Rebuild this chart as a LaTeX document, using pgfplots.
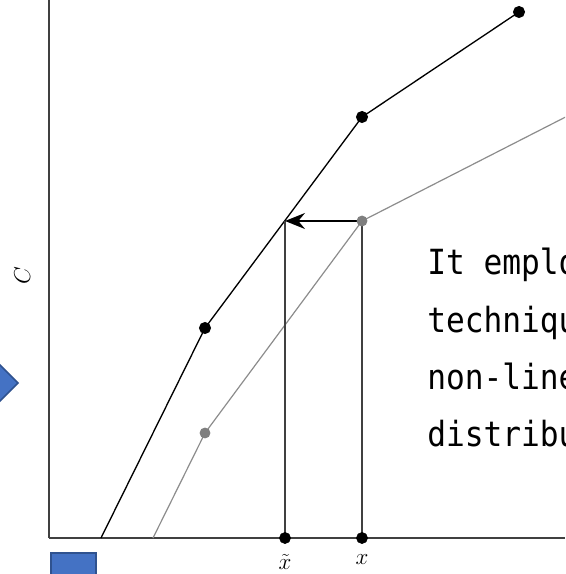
\documentclass[border=0pt]{standalone}
\usepackage{pgfplots}
\pgfplotsset{compat=1.18}
\usetikzlibrary{arrows.meta}
\usepackage{fontspec}
\newfontfamily\techfont[FakeStretch=0.9]{DejaVu Sans Mono}
\definecolor{axgray}{HTML}{404040}
\definecolor{lgray}{HTML}{8C8C8C}
\definecolor{dgray}{HTML}{7F7F7F}
\definecolor{boxblue}{HTML}{4472C4}
\definecolor{boxedge}{HTML}{2F528F}

\begin{document}
\begin{tikzpicture}
% picture frame: 565 x 574 px at 0.75pt per px
\useasboundingbox (-36.75pt,-27pt) rectangle (387pt,403.5pt);
\clip (-36.75pt,-27pt) rectangle (387pt,403.5pt);
\begin{axis}[
  at={(0,0)},anchor=south west,
  scale only axis,width=387pt,height=403.5pt,
  xmin=49,xmax=565,ymin=0,ymax=538,
  clip=false,
  axis x line*=bottom,axis y line*=left,
  axis line style={-,draw=axgray,line width=1.1pt},
  major tick length=0pt,
  xtick={285,362},xticklabels={$\tilde{x}$,$x$},
  ytick=\empty,
  xticklabel style={font=\LARGE,yshift=-9pt},
  ylabel={$C$},
  ylabel style={at={(axis description cs:-0.052,0.487)},anchor=center,
                font=\LARGE},
]
% shifted cost curve (gray)
\addplot[lgray,line width=0.9pt,mark=*,mark size=3.6pt,
  mark options={draw=dgray,fill=dgray},mark indices={2,3}]
  coordinates {(153,0)(205,105)(362,317)(640,459)};
% original cost curve (black)
\addplot[black,line width=1pt,mark=*,mark size=4pt,mark indices={2,3,4}]
  coordinates {(101,0)(205,210)(362,421)(519,526)};
% guides from x and x-tilde
\addplot[axgray,line width=1.1pt] coordinates {(285,0)(285,317)};
\addplot[axgray,line width=1.1pt] coordinates {(362,0)(362,317)};
\addplot[only marks,black,mark=*,mark size=4.2pt] coordinates {(285,0)(362,0)};
\draw[black,line width=1.1pt,-{Stealth[length=15pt,width=12pt,inset=5pt]}]
  (axis cs:362,317) -- (axis cs:285,317);
\end{axis}
% overlay text and shapes from the slide
\node[anchor=base west,inner sep=0pt,font=\techfont\fontsize{26}{30}\selectfont]
  at (283.5pt,197.25pt) {It employs a};
\node[anchor=base west,inner sep=0pt,font=\techfont\fontsize{26}{30}\selectfont]
  at (283.5pt,153.75pt) {technique};
\node[anchor=base west,inner sep=0pt,font=\techfont\fontsize{26}{30}\selectfont]
  at (283.5pt,111pt) {non-linear};
\node[anchor=base west,inner sep=0pt,font=\techfont\fontsize{26}{30}\selectfont]
  at (283.5pt,68.25pt) {distribution};
\filldraw[fill=boxblue,draw=boxedge,line width=1.1pt]
  (-38.25pt,131.25pt) -- (-23.25pt,116.25pt) -- (-38.25pt,101.25pt)
  -- (-53.25pt,116.25pt) -- cycle;
\filldraw[fill=boxblue,draw=boxedge,line width=1.1pt]
  (1.5pt,-11.25pt) rectangle (35.25pt,-45pt);
\end{tikzpicture}
\end{document}
